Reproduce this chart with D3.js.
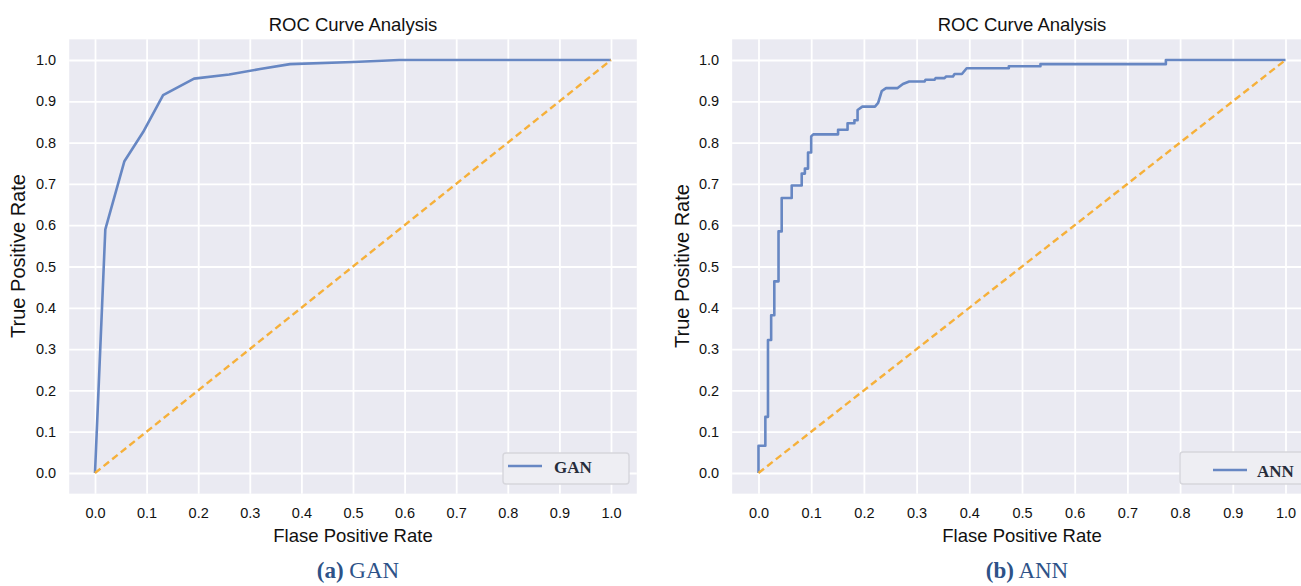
<!DOCTYPE html>
<html>
<head>
<meta charset="utf-8">
<script src="https://cdn.jsdelivr.net/npm/d3@7"></script>
<style>
  body { margin: 0; background: #ffffff; }
  svg { display: block; }
  .tick text { font-family: "Liberation Sans", Arial, sans-serif; fill: #111; }
</style>
</head>
<body>
<div id="chart"></div>
<script>
// tick labels shared by both panels
var tickValues = [0.0, 0.1, 0.2, 0.3, 0.4, 0.5, 0.6, 0.7, 0.8, 0.9, 1.0];

// GAN roc curve
var ganFpr = [0, 0.02, 0.057, 0.093, 0.132, 0.192, 0.26, 0.32, 0.378, 0.5, 0.59, 1.0];
var ganTpr = [0, 0.59, 0.755, 0.825, 0.915, 0.955, 0.965, 0.978, 0.99, 0.995, 1.0, 1.0];

// ANN roc curve (step corners)
var annFpr = [0, 0, 0.013, 0.013, 0.018, 0.018, 0.024, 0.024, 0.03, 0.03, 0.038, 0.038, 0.044, 0.044,
  0.063, 0.063, 0.082, 0.082, 0.088, 0.088, 0.094, 0.094, 0.1, 0.1, 0.104, 0.151, 0.151, 0.169, 0.169,
  0.182, 0.182, 0.188, 0.188, 0.197, 0.221, 0.227, 0.234, 0.242, 0.264, 0.274, 0.286, 0.315, 0.317,
  0.334, 0.336, 0.353, 0.356, 0.369, 0.372, 0.386, 0.395, 0.475, 0.475, 0.535, 0.535, 0.773, 0.773, 1.0];
var annTpr = [0, 0.066, 0.066, 0.136, 0.136, 0.322, 0.322, 0.382, 0.382, 0.464, 0.464, 0.585, 0.585, 0.666,
  0.666, 0.696, 0.696, 0.725, 0.725, 0.737, 0.737, 0.776, 0.776, 0.815, 0.82, 0.82, 0.831, 0.831, 0.847,
  0.847, 0.854, 0.854, 0.879, 0.887, 0.887, 0.896, 0.925, 0.932, 0.932, 0.942, 0.948, 0.948, 0.952,
  0.952, 0.956, 0.956, 0.96, 0.96, 0.966, 0.966, 0.98, 0.98, 0.985, 0.985, 0.99, 0.99, 1.0, 1.0];

// chance diagonal
var chanceX = [0, 1];
var chanceY = [0, 1];

var W = 1301, H = 586;

var svg = d3.select("#chart")
  .append("svg")
    .attr("width", W)
    .attr("height", H);

// one panel per model; x0/x1 are pixel positions of fpr 0 and 1
var panels = [
  {name: "GAN", tag: "(a)", fpr: ganFpr, tpr: ganTpr, x0: 95, x1: 611,
   legend: {x: 503, y: 453, w: 126, h: 31, lineY: 466, textY: 473, lx: 508, tx: 554}, ylabelY: 256},
  {name: "ANN", tag: "(b)", fpr: annFpr, tpr: annTpr, x0: 758.5, x1: 1285.5,
   legend: {x: 1180, y: 452, w: 140, h: 32, lineY: 470, textY: 477, lx: 1213, tx: 1257}, ylabelY: 266}
];

var yTop = 60, yBottom = 473;

panels.forEach(function(p) {
  var span = p.x1 - p.x0;
  var x = d3.scaleLinear().domain([-0.05, 1.05]).range([p.x0 - 0.05 * span, p.x1 + 0.05 * span]);
  var y = d3.scaleLinear().domain([-0.05, 1.05]).range([yBottom + 0.05 * (yBottom - yTop), yTop - 0.05 * (yBottom - yTop)]);

  var xr = x.range(), yr = y.range();
  var g = svg.append("g");

  // seaborn style background
  g.append("rect")
    .attr("x", xr[0]).attr("y", yr[1])
    .attr("width", xr[1] - xr[0]).attr("height", yr[0] - yr[1])
    .attr("fill", "#eaeaf2");

  // x grid + labels
  var xAxis = g.append("g")
    .attr("transform", "translate(0," + yr[0] + ")")
    .call(d3.axisBottom(x).tickValues(tickValues).tickFormat(d3.format(".1f"))
      .tickSize(-(yr[0] - yr[1])).tickPadding(14));
  xAxis.select(".domain").remove();
  xAxis.selectAll(".tick line").attr("stroke", "#ffffff").attr("stroke-width", 1.8);
  xAxis.selectAll(".tick text").attr("font-size", 14.5);

  // y grid + labels
  var yAxis = g.append("g")
    .attr("transform", "translate(" + xr[0] + ",0)")
    .call(d3.axisLeft(y).tickValues(tickValues).tickFormat(d3.format(".1f"))
      .tickSize(-(xr[1] - xr[0])).tickPadding(13));
  yAxis.select(".domain").remove();
  yAxis.selectAll(".tick line").attr("stroke", "#ffffff").attr("stroke-width", 1.8);
  yAxis.selectAll(".tick text").attr("font-size", 14.5);

  var line = d3.line()
    .x(function(d) { return x(d[0]); })
    .y(function(d) { return y(d[1]); });

  // roc curve
  g.append("path")
    .datum(d3.zip(p.fpr, p.tpr))
    .attr("d", line)
    .attr("fill", "none")
    .attr("stroke", "#6787c3")
    .attr("stroke-width", 2.6)
    .attr("stroke-linejoin", "round");

  // chance line
  g.append("path")
    .datum(d3.zip(chanceX, chanceY))
    .attr("d", line)
    .attr("fill", "none")
    .attr("stroke", "#f6b03a")
    .attr("stroke-width", 2.4)
    .attr("stroke-dasharray", "7,4");

  var cx = (xr[0] + xr[1]) / 2;

  // title
  g.append("text")
    .attr("x", cx).attr("y", 31)
    .attr("text-anchor", "middle")
    .attr("font-family", "Liberation Sans, Arial, sans-serif")
    .attr("font-size", 18.5)
    .attr("fill", "#111")
    .text("ROC Curve Analysis");

  // axis labels
  g.append("text")
    .attr("x", cx).attr("y", 542)
    .attr("text-anchor", "middle")
    .attr("font-family", "Liberation Sans, Arial, sans-serif")
    .attr("font-size", 18.5)
    .attr("fill", "#111")
    .text("Flase Positive Rate");

  g.append("text")
    .attr("transform", "translate(" + (p.x0 - 70) + "," + p.ylabelY + ") rotate(-90)")
    .attr("text-anchor", "middle")
    .attr("font-family", "Liberation Sans, Arial, sans-serif")
    .attr("font-size", 20)
    .attr("fill", "#111")
    .text("True Positive Rate");

  // legend
  var L = p.legend;
  g.append("rect")
    .attr("x", L.x).attr("y", L.y).attr("width", L.w).attr("height", L.h)
    .attr("rx", 3)
    .attr("fill", "#eeeef3")
    .attr("stroke", "#d6d6dc")
    .attr("stroke-width", 1.4);
  g.append("line")
    .attr("x1", L.lx).attr("x2", L.lx + 34)
    .attr("y1", L.lineY).attr("y2", L.lineY)
    .attr("stroke", "#6787c3")
    .attr("stroke-width", 2.6);
  g.append("text")
    .attr("x", L.tx).attr("y", L.textY)
    .attr("font-family", "Liberation Serif, Times New Roman, serif")
    .attr("font-weight", "bold")
    .attr("font-size", 17)
    .attr("fill", "#262c3a")
    .text(p.name);

  // caption under the panel
  var cap = g.append("text")
    .attr("x", (p.x0 + p.x1) / 2 + 5).attr("y", 578)
    .attr("text-anchor", "middle")
    .attr("font-family", "Liberation Serif, Times New Roman, serif")
    .attr("font-size", 23)
    .attr("fill", "#2d5288");
  cap.append("tspan").attr("font-weight", "bold").text(p.tag);
  cap.append("tspan").text(" " + p.name);
});
</script>
</body>
</html>
